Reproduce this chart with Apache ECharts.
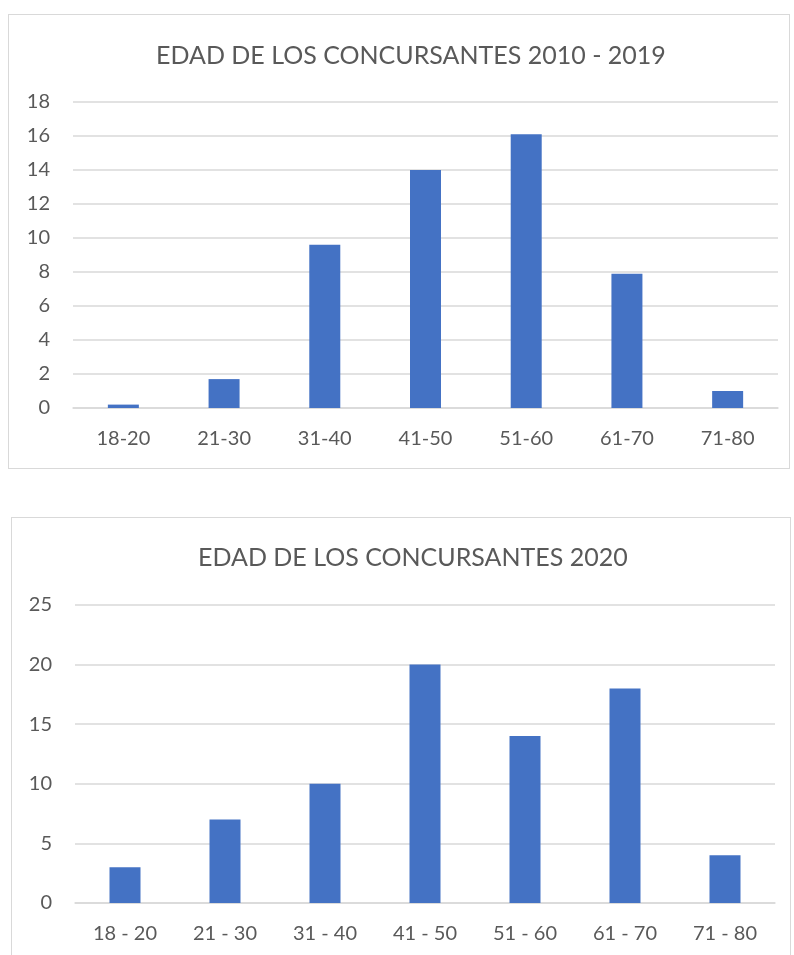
<!DOCTYPE html>
<html>
<head>
<meta charset="utf-8">
<script src="https://cdn.jsdelivr.net/npm/echarts@6/dist/echarts.min.js"></script>
<style>
  html, body { margin: 0; padding: 0; background: #fff; overflow: hidden; }
  body { width: 794px; height: 955px; position: relative; }
  .box { position: absolute; border: 1.5px solid #d9d9d9; box-sizing: border-box; }
  #top { left: 8px; top: 14px; width: 782px; height: 455px; }
  #bottom { left: 11px; top: 517px; width: 780px; height: 470px; }
</style>
</head>
<body>
<div id="top" class="box"></div>
<div id="bottom" class="box"></div>
<script>
// datos
const titleTop = 'EDAD DE LOS CONCURSANTES 2010 - 2019'
const categoriesTop = ['18-20', '21-30', '31-40', '41-50', '51-60', '61-70', '71-80']
const valuesTop = [0.2, 1.7, 9.6, 14, 16.1, 7.9, 1.0]

const titleBottom = 'EDAD DE LOS CONCURSANTES 2020'
const categoriesBottom = ['18 - 20', '21 - 30', '31 - 40', '41 - 50', '51 - 60', '61 - 70', '71 - 80']
const valuesBottom = [3, 7, 10, 20, 14, 18, 4]

const FONT = 'Lato'
const TEXT = '#595959'
const GRID_LINE = '#d9d9d9'
const BAR = '#4472c4'

// opciones comunes de un grafico de barras
const buildOption = (title, categories, values, max, interval, grid, titlePos) => ({
  animation: false,
  title: {
    text: title,
    left: titlePos[0],
    top: titlePos[1],
    padding: 0,
    textStyle: { fontFamily: FONT, fontSize: 25, fontWeight: 'normal', color: TEXT }
  },
  grid: grid,
  xAxis: {
    type: 'category',
    data: categories,
    axisTick: { show: false },
    axisLine: { lineStyle: { color: GRID_LINE, width: 1.5 } },
    axisLabel: { fontFamily: FONT, fontSize: 20, color: TEXT, margin: 21 }
  },
  yAxis: {
    type: 'value',
    min: 0,
    max: max,
    interval: interval,
    axisLine: { show: false },
    axisTick: { show: false },
    axisLabel: { fontFamily: FONT, fontSize: 20, color: TEXT, margin: 23 },
    splitLine: { lineStyle: { color: GRID_LINE, width: 1.5 } }
  },
  series: [
    {
      type: 'bar',
      barWidth: 31,
      itemStyle: { color: BAR },
      data: values
    }
  ]
})

const chartTop = echarts.init(document.getElementById('top'))
chartTop.setOption(buildOption(titleTop, categoriesTop, valuesTop, 18, 2,
  { left: 64, right: 11, top: 87, height: 306 }, [147, 28]))

const chartBottom = echarts.init(document.getElementById('bottom'))
chartBottom.setOption(buildOption(titleBottom, categoriesBottom, valuesBottom, 25, 5,
  { left: 63, right: 15, top: 87, height: 298 }, [186, 27]))
</script>
</body>
</html>
